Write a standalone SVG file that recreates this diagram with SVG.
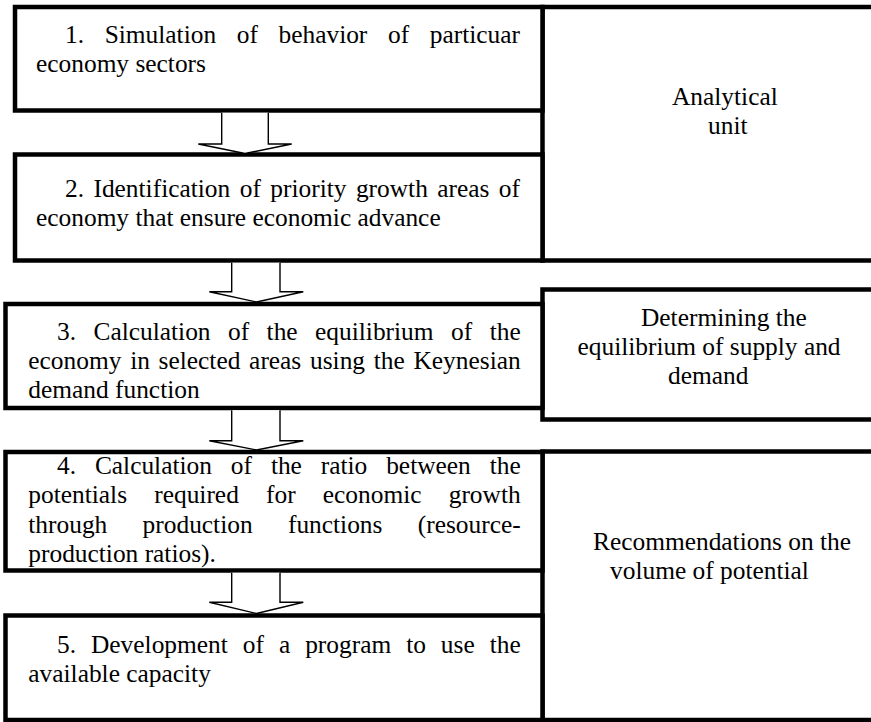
<svg xmlns="http://www.w3.org/2000/svg" width="871" height="722" viewBox="0 0 871 722">
<style>
.box{fill:#fff;stroke:#000;stroke-width:4.5}
.arrow{fill:#fff;stroke:#000;stroke-width:1.4;stroke-linejoin:miter}
text{font-family:"Liberation Serif","Times New Roman",serif;font-size:25.4px;fill:#000}
</style>
<rect width="871" height="722" fill="#fff"/>
<g id="analytical">
<rect class="box" x="542.5" y="7" width="340" height="253.5"/>
<text x="672" y="105">Analytical</text>
<text x="708" y="134">unit</text>
</g>
<g id="equilibrium">
<rect class="box" x="542.5" y="289.5" width="340" height="130"/>
<text x="641" y="326">Determining the</text>
<text x="577.5" y="355">equilibrium of supply and</text>
<text x="668" y="384">demand</text>
</g>
<g id="recommendations">
<rect class="box" x="542.5" y="451.5" width="340" height="268.5"/>
<text x="593" y="550">Recommendations on the</text>
<text x="610" y="579">volume of potential</text>
</g>
<g id="box1">
<rect class="box" x="15" y="7" width="527.5" height="103.5"/>
<text y="43"><tspan x="65">1.</tspan><tspan x="104.65">Simulation</tspan><tspan x="236.75">of</tspan><tspan x="278.5">behavior</tspan><tspan x="387.97">of</tspan><tspan x="429.73">particuar</tspan></text>
<text x="36" y="72">economy sectors</text>
</g>
<g id="box2">
<rect class="box" x="15" y="154.5" width="527.5" height="106"/>
<text y="197"><tspan x="65">2.</tspan><tspan x="93.46">Identification</tspan><tspan x="239.73">of</tspan><tspan x="270.3">priority</tspan><tspan x="355.91">growth</tspan><tspan x="437.28">areas</tspan><tspan x="498.86">of</tspan></text>
<text x="36" y="226">economy that ensure economic advance</text>
</g>
<g id="box3">
<rect class="box" x="5.5" y="304" width="537" height="104"/>
<text y="340"><tspan x="57">3.</tspan><tspan x="93.48">Calculation</tspan><tspan x="228.03">of</tspan><tspan x="266.62">the</tspan><tspan x="315.09">equilibrium</tspan><tspan x="451.06">of</tspan><tspan x="489.65">the</tspan></text>
<text y="369"><tspan x="28.3">economy</tspan><tspan x="130.13">in</tspan><tspan x="158.6">selected</tspan><tspan x="249.12">areas</tspan><tspan x="310">using</tspan><tspan x="373.75">the</tspan><tspan x="413.5">Keynesian</tspan></text>
<text x="28.3" y="398">demand function</text>
</g>
<g id="box4">
<rect class="box" x="5.5" y="452" width="537" height="118.5"/>
<text y="474"><tspan x="57">4.</tspan><tspan x="94.9">Calculation</tspan><tspan x="230.87">of</tspan><tspan x="270.88">the</tspan><tspan x="320.77">ratio</tspan><tspan x="386.18">between</tspan><tspan x="489.66">the</tspan></text>
<text y="503.3"><tspan x="28.3">potentials</tspan><tspan x="154.24">required</tspan><tspan x="266.03">for</tspan><tspan x="322.81">economic</tspan><tspan x="448.73">growth</tspan></text>
<text y="532.6"><tspan x="28.3">through</tspan><tspan x="142.6">production</tspan><tspan x="287.94">functions</tspan><tspan x="417.76">(resource-</tspan></text>
<text x="28.3" y="562">production ratios).</text>
</g>
<g id="box5">
<rect class="box" x="5.5" y="615.5" width="537" height="104.5"/>
<text y="653"><tspan x="57">5.</tspan><tspan x="91">Development</tspan><tspan x="242.81">of</tspan><tspan x="278.92">a</tspan><tspan x="305.15">program</tspan><tspan x="406.16">to</tspan><tspan x="440.87">use</tspan><tspan x="489.68">the</tspan></text>
<text x="28.3" y="682">available capacity</text>
</g>
<g id="connectors">
<path class="arrow" d="M221.7,112.8 V144 H198.3 L245,153.5 L291.7,144 H268.3 V112.8"/>
<path class="arrow" d="M231.7,262.8 V291.7 H209.3 L256.5,302 L303.3,291.7 H280 V262.8"/>
<path class="arrow" d="M231.7,410.3 V440.7 H209.3 L256.5,450 L303.3,440.7 H280 V410.3"/>
<path class="arrow" d="M231.7,572.8 V602.3 H209.3 L256.5,613.5 L303.3,602.3 H280 V572.8"/>
</g>
</svg>
